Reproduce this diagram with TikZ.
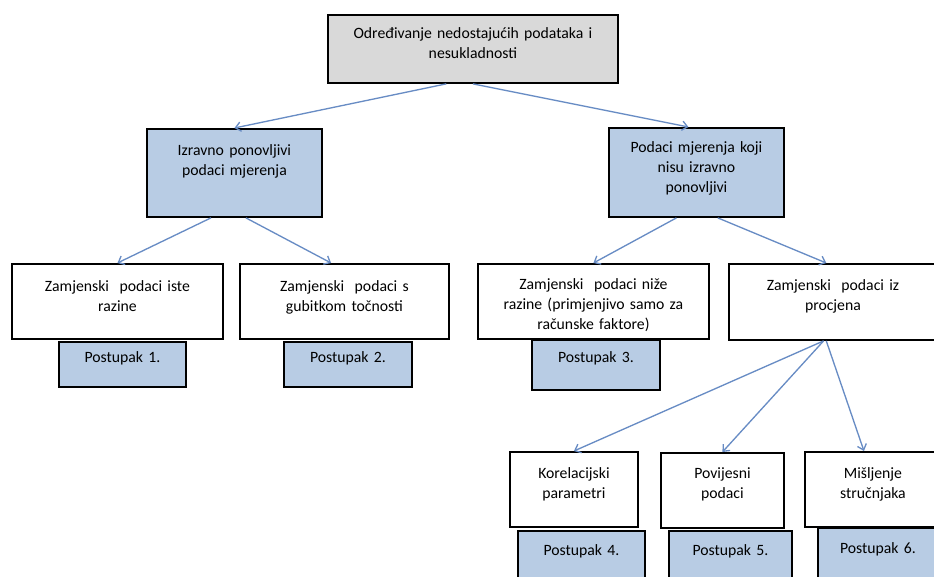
\documentclass[tikz,border=0pt]{standalone}
\usepackage{fontspec}
\setmainfont{Carlito}
\usetikzlibrary{arrows.meta}
\definecolor{boxblue}{RGB}{184,204,228}
\definecolor{boxgrey}{RGB}{217,217,217}
\definecolor{linkblue}{RGB}{104,140,196}
\begin{document}
\begin{tikzpicture}[x=0.75pt,y=-0.75pt]
\tikzset{
  box/.style={draw,line width=1.4pt,anchor=north west,inner xsep=3pt,inner ysep=0pt,align=center,font=\fontsize{11.8}{15}\selectfont},
  greybox/.style={box,fill=boxgrey},
  bluebox/.style={box,fill=boxblue},
  whitebox/.style={box,fill=white},
  directed/.style={-{Straight Barb[length=4pt,width=7pt]},draw=linkblue,line width=1pt}
}
\useasboundingbox (0,0) rectangle (934,576);
\clip (0,0) rectangle (934,576);
\node[greybox,text width=211.5pt,text height=18pt,text depth=33pt] (n_top) at (327,14) {Određivanje nedostajućih podataka i\\nesukladnosti};
\node[bluebox,text width=125.25pt,text height=20.25pt,text depth=45.75pt] (n_direct) at (146,128) {Izravno ponovljivi\\podaci mjerenja};
\node[bluebox,text width=125.25pt,text height=18.75pt,text depth=48pt] (n_indirect) at (608,127) {Podaci mjerenja koji\\nisu izravno\\ponovljivi};
\node[whitebox,text width=152.25pt,text height=21pt,text depth=35.25pt] (n_same) at (11,263) {Zamjenski~ podaci iste\\razine};
\node[whitebox,text width=150.75pt,text height=21pt,text depth=35.25pt] (n_loss) at (239,263) {Zamjenski~ podaci s\\gubitkom točnosti};
\node[whitebox,text width=167.25pt,text height=19.5pt,text depth=36.75pt] (n_lower) at (477,263) {Zamjenski~ podaci niže\\razine (primjenjivo samo za\\računske faktore)};
\node[whitebox,text width=150pt,text height=20.25pt,text depth=36.75pt] (n_estim) at (728,263) {Zamjenski~ podaci iz\\procjena};
\node[whitebox,text width=90pt,text height=20.25pt,text depth=36pt] (n_corr) at (509,451) {Korelacijski\\parametri};
\node[whitebox,text width=86.25pt,text height=19.5pt,text depth=36.75pt] (n_hist) at (660,452) {Povijesni\\podaci};
\node[whitebox,text width=96pt,text height=20.25pt,text depth=36pt] (n_expert) at (804,451) {Mišljenje\\stručnjaka};
\node[bluebox,text width=89.25pt,text height=15.75pt,text depth=18pt] (n_p1) at (58,341) {Postupak 1.};
\node[bluebox,text width=90pt,text height=15.75pt,text depth=18pt] (n_p2) at (283,341) {Postupak 2.};
\node[bluebox,text width=90pt,text height=17.25pt,text depth=20.25pt] (n_p3) at (531,339) {Postupak 3.};
\node[bluebox,text width=89.25pt,text height=18.75pt,text depth=18.75pt] (n_p4) at (517,530) {Postupak 4.};
\node[bluebox,text width=86.25pt,text height=18.75pt,text depth=18.75pt] (n_p5) at (668,530) {Postupak 5.};
\node[bluebox,text width=84pt,text height=19.5pt,text depth=19.5pt] (n_p6) at (817,527) {Postupak 6.};
\draw[directed] ([xshift=-20pt]n_top.south) -- (n_direct.north);
\draw[directed] (n_top.south) -- ([xshift=-6pt]n_indirect.north);
\draw[directed] ([xshift=-17.6pt]n_direct.south) -- (n_same.north);
\draw[directed] ([xshift=8.6pt]n_direct.south) -- ([xshift=-10pt]n_loss.north);
\draw[directed] ([xshift=-15pt]n_indirect.south) -- (n_lower.north);
\draw[directed] ([xshift=16pt]n_indirect.south) -- ([xshift=-5pt]n_estim.north);
\draw[directed] ([xshift=-7pt]n_estim.south) -- (n_corr.north);
\draw[directed] ([xshift=-7pt]n_estim.south) -- (n_hist.north);
\draw[directed] ([xshift=-5pt]n_estim.south) -- ([xshift=-6.75pt]n_expert.north);
\end{tikzpicture}
\end{document}
